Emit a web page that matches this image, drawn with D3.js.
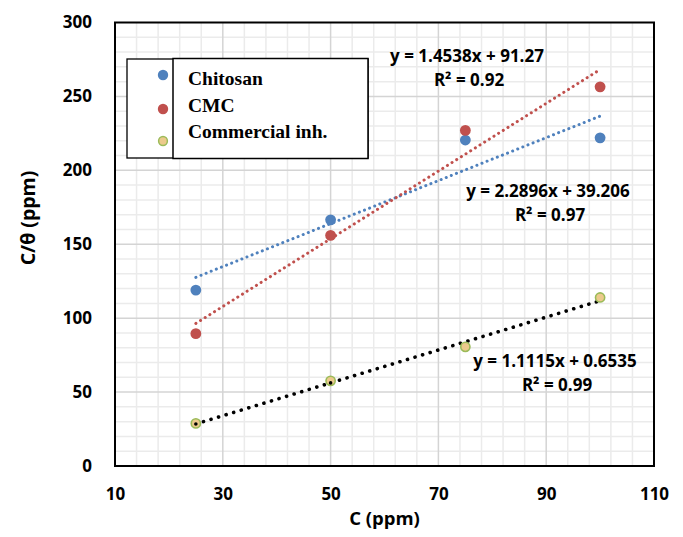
<!DOCTYPE html>
<html><head><meta charset="utf-8">
<script src="https://cdn.jsdelivr.net/npm/d3@7"></script>
<style>body{margin:0;background:#fff}svg{display:block}</style>
</head><body>
<svg id="chart" width="683" height="537"></svg>
<script>
const xValues = [25, 50, 75, 100];
const chitosan = [119, 166.5, 220.5, 222];
const cmc = [89.5, 156, 227, 256.5];
const commercial = [28.8, 57.6, 80.6, 114];
const seriesNames = ["Chitosan", "CMC", "Commercial inh."];
const trendSlopes = [1.4538, 2.2896, 1.1115];
const trendIntercepts = [91.27, 39.206, 0.6535];
const trendLabels = [["y = 1.4538x + 91.27", "R² = 0.92"], ["y = 2.2896x + 39.206", "R² = 0.97"], ["y = 1.1115x + 0.6535", "R² = 0.99"]];
const xTicks = [10, 30, 50, 70, 90, 110];
const yTicks = [0, 50, 100, 150, 200, 250, 300];

const svg = d3.select("#chart");
const x = d3.scaleLinear().domain([10, 110]).range([115, 654]);
const y = d3.scaleLinear().domain([0, 300]).range([466, 22.5]);
const font = "'Open Sans', 'DejaVu Sans', sans-serif";

// minor grid
const g = svg.append("g");
g.selectAll(".vmin").data(d3.range(14, 110, 4).filter(v => (v - 10) % 20 !== 0))
  .join("line").attr("x1", d => x(d)).attr("x2", d => x(d)).attr("y1", y(0)).attr("y2", y(300))
  .attr("stroke", "#ebebeb").attr("stroke-width", 1.5);
g.selectAll(".hmin").data(d3.range(10, 300, 10).filter(v => v % 50 !== 0))
  .join("line").attr("y1", d => y(d)).attr("y2", d => y(d)).attr("x1", x(10)).attr("x2", x(110))
  .attr("stroke", "#ebebeb").attr("stroke-width", 1.5);
// major grid
g.selectAll(".vmaj").data(xTicks.slice(1, -1))
  .join("line").attr("x1", d => x(d)).attr("x2", d => x(d)).attr("y1", y(0)).attr("y2", y(300))
  .attr("stroke", "#d4d4d4").attr("stroke-width", 1.5);
g.selectAll(".hmaj").data(yTicks.slice(1, -1))
  .join("line").attr("y1", d => y(d)).attr("y2", d => y(d)).attr("x1", x(10)).attr("x2", x(110))
  .attr("stroke", "#d4d4d4").attr("stroke-width", 1.5);

// axes (labels only)
const xAxis = svg.append("g").attr("transform", `translate(0,${y(0)})`)
  .call(d3.axisBottom(x).tickValues(xTicks).tickSize(0).tickPadding(22));
const yAxis = svg.append("g").attr("transform", `translate(${x(10)},0)`)
  .call(d3.axisLeft(y).tickValues(yTicks).tickSize(0).tickPadding(23));
[xAxis, yAxis].forEach(a => {
  a.select(".domain").remove();
  a.selectAll("text").attr("font-family", font).attr("font-weight", "bold").attr("font-size", 17).attr("fill", "#000");
});

// plot border
svg.append("rect").attr("x", x(10)).attr("y", y(300)).attr("width", x(110) - x(10)).attr("height", y(0) - y(300))
  .attr("fill", "none").attr("stroke", "#000").attr("stroke-width", 2);

// axis titles
svg.append("text").attr("x", (x(10) + x(110)) / 2).attr("y", 525).attr("text-anchor", "middle")
  .attr("font-family", font).attr("font-weight", "bold").attr("font-size", 18.5).text("C (ppm)");
svg.append("text").attr("transform", "translate(35,218) rotate(-90)").attr("text-anchor", "middle")
  .attr("font-family", font).attr("font-weight", "bold").attr("font-size", 19.5).text("C/θ (ppm)");

const series = [
  {name: seriesNames[0], vals: chitosan, fill: "#4f81bd", stroke: "#4f81bd", tcol: "#4f81bd", tw: 3, dash: "0.1 5.4"},
  {name: seriesNames[1], vals: cmc, fill: "#c0504d", stroke: "#c0504d", tcol: "#c0504d", tw: 3, dash: "0.1 5.4"},
  {name: seriesNames[2], vals: commercial, fill: "#ecca8c", stroke: "#9bbb59", tcol: "#000", tw: 3.6, dash: "0.1 7.8"}
];

// trendlines
series.forEach((s, i) => {
  const x0 = xValues[0], x1 = xValues[xValues.length - 1];
  svg.append("line")
    .attr("x1", x(x0)).attr("y1", y(trendSlopes[i] * x0 + trendIntercepts[i]))
    .attr("x2", x(x1)).attr("y2", y(trendSlopes[i] * x1 + trendIntercepts[i]))
    .attr("stroke", s.tcol).attr("stroke-width", s.tw).attr("stroke-linecap", "round")
    .attr("stroke-dasharray", s.dash);
});

// markers
series.forEach((s, i) => {
  svg.append("g").selectAll("circle").data(xValues.map((xv, j) => [xv, s.vals[j]]))
    .join("circle").attr("cx", d => x(d[0])).attr("cy", d => y(d[1]))
    .attr("r", i === 2 ? 4.6 : 5.4).attr("fill", s.fill)
    .attr("stroke", s.stroke).attr("stroke-width", i === 2 ? 1.6 : 0);
});
// trendline dots visible over commercial markers
svg.append("g").selectAll("circle").data([0, 1]).join("circle")
  .attr("cx", j => x(xValues[j])).attr("cy", j => y(trendSlopes[2] * xValues[j] + trendIntercepts[2]))
  .attr("r", 1.8).attr("fill", "#000");

// trend labels
const labelPos = [[467, 62], [548, 197], [555, 367]];
trendLabels.forEach((lines, i) => {
  lines.forEach((t, k) => {
    svg.append("text").attr("x", labelPos[i][0] + (k === 1 ? 2 : 0)).attr("y", labelPos[i][1] + k * 24)
      .attr("text-anchor", "middle").attr("font-family", font).attr("font-weight", "bold")
      .attr("font-size", 17).attr("fill", "#000").text(t);
  });
});

// legend
const lg = svg.append("g");
lg.append("rect").attr("x", 127).attr("y", 59).attr("width", 241).attr("height", 99)
  .attr("fill", "#fff").attr("stroke", "#000").attr("stroke-width", 1.3);
lg.append("rect").attr("x", 173).attr("y", 58.5).attr("width", 195).attr("height", 100)
  .attr("fill", "#fff").attr("stroke", "#000").attr("stroke-width", 1.5);
const legY = [75, 109, 141];
const legTextY = [85, 112, 138];
series.forEach((s, i) => {
  lg.append("circle").attr("cx", 163).attr("cy", legY[i]).attr("r", i === 2 ? 4.4 : 5.2)
    .attr("fill", s.fill).attr("stroke", s.stroke).attr("stroke-width", i === 2 ? 1.5 : 0);
  lg.append("text").attr("x", 188).attr("y", legTextY[i])
    .attr("font-family", "'Liberation Serif', 'Times New Roman', serif").attr("font-weight", "bold")
    .attr("font-size", 19.5).attr("fill", "#000").text(s.name);
});
</script>
</body></html>
